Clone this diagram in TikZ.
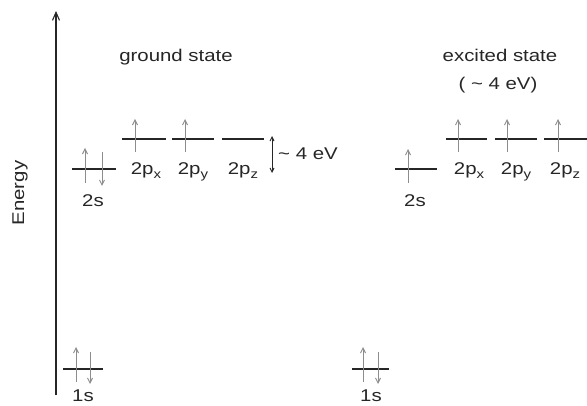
\documentclass[tikz,border=0pt]{standalone}
\usepackage{fontspec}
\setmainfont[FakeStretch=1.2]{Liberation Sans}
\usetikzlibrary{arrows.meta}
\newcommand\orbsub[1]{\raisebox{-4pt}{\fontsize{12.5}{12.5}\selectfont #1}}
\tikzset{
  lbl/.style={font=\fontsize{17}{19}\selectfont, text=black!85, inner sep=0pt},
  lvl/.style={draw=black!85, line width=1.1pt},
  elec/.style={draw=black!45, line width=1pt, -{Straight Barb[length=5pt,width=5pt]}},
  axis/.style={draw=black!85, line width=1.1pt, -{Straight Barb[length=8pt,width=7pt]}},
}
\begin{document}
\begin{tikzpicture}[x=1pt,y=-1pt]
\useasboundingbox (0,0) rectangle (587,406);
% axis
\coordinate (ax0) at (56,395);
\coordinate (ax1) at (56,11);
\draw[axis] (ax0) -- (ax1);
\node[lbl, rotate=90] (energy) at (20,193) {Energy};
% titles
\node[lbl, anchor=base] (gs) at (176,62) {ground state};
\node[lbl, anchor=base] (es) at (500,62) {excited state};
\node[lbl, anchor=base] (es2) at (498,90) {( \char"7E\ 4 eV)};
% ---- ground state ----
\coordinate (g1sL) at (63,369); \coordinate (g1sR) at (103,369);
\draw[lvl] (g1sL) -- (g1sR);
\draw[elec] (76,382) -- (76,347);
\draw[elec] (90,352) -- (90,384);
\node[lbl, anchor=base] (g1s) at (83,401) {1s};
\coordinate (g2sL) at (72,169); \coordinate (g2sR) at (116,169);
\draw[lvl] (g2sL) -- (g2sR);
\draw[elec] (85,183) -- (85,148);
\draw[elec] (102,152) -- (102,186);
\node[lbl, anchor=base] (g2s) at (93,207) {2s};
\coordinate (gpxL) at (122,139); \coordinate (gpxR) at (166,139);
\coordinate (gpyL) at (172,139); \coordinate (gpyR) at (214,139);
\coordinate (gpzL) at (222,139); \coordinate (gpzR) at (264,139);
\draw[lvl] (gpxL) -- (gpxR);
\draw[lvl] (gpyL) -- (gpyR);
\draw[lvl] (gpzL) -- (gpzR);
\draw[elec] (135,152) -- (135,119);
\draw[elec] (185,152) -- (185,119);
\node[lbl, anchor=base] (gpx) at (146,175) {2p\orbsub{x}};
\node[lbl, anchor=base] (gpy) at (193,175) {2p\orbsub{y}};
\node[lbl, anchor=base] (gpz) at (243,175) {2p\orbsub{z}};
\coordinate (gapT) at (272,136); \coordinate (gapB) at (272,173);
\draw[draw=black!85, line width=1pt, {Straight Barb[length=4pt,width=4pt]}-{Straight Barb[length=4pt,width=4pt]}] (gapT) -- (gapB);
\node[lbl, anchor=base west] (gap) at (278,160) {\char"7E\ 4 eV};
% ---- excited state ----
\coordinate (e1sL) at (352,369); \coordinate (e1sR) at (389,369);
\draw[lvl] (e1sL) -- (e1sR);
\draw[elec] (363,382) -- (363,347);
\draw[elec] (378,352) -- (378,384);
\node[lbl, anchor=base] (e1s) at (371,401) {1s};
\coordinate (e2sL) at (395,169); \coordinate (e2sR) at (437,169);
\draw[lvl] (e2sL) -- (e2sR);
\draw[elec] (408,183) -- (408,149);
\node[lbl, anchor=base] (e2s) at (415,207) {2s};
\coordinate (epxL) at (446,139); \coordinate (epxR) at (487,139);
\coordinate (epyL) at (495,139); \coordinate (epyR) at (537,139);
\coordinate (epzL) at (544,139); \coordinate (epzR) at (587,139);
\draw[lvl] (epxL) -- (epxR);
\draw[lvl] (epyL) -- (epyR);
\draw[lvl] (epzL) -- (epzR);
\draw[elec] (458,152) -- (458,119);
\draw[elec] (507,152) -- (507,119);
\draw[elec] (558,152) -- (558,119);
\node[lbl, anchor=base] (epx) at (469,175) {2p\orbsub{x}};
\node[lbl, anchor=base] (epy) at (516,175) {2p\orbsub{y}};
\node[lbl, anchor=base] (epz) at (565,175) {2p\orbsub{z}};
\end{tikzpicture}
\end{document}
